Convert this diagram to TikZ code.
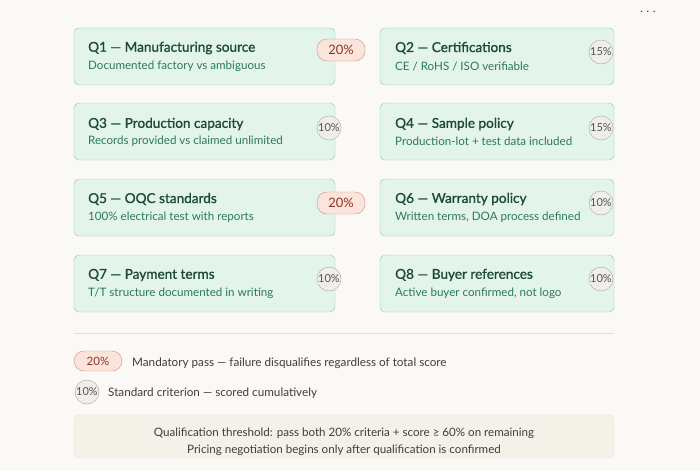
\documentclass[tikz,border=0pt]{standalone}
\usepackage{fontspec}
\setmainfont{Lato}
\newfontfamily\titlefont{Lato}[FakeBold=1.2]
\usetikzlibrary{positioning}
\definecolor{pagebg}{HTML}{FAF9F6}
\definecolor{cardfill}{HTML}{E2F4EC}
\definecolor{cardline}{HTML}{8FC9AE}
\definecolor{titlecol}{HTML}{1E4A37}
\definecolor{subcol}{HTML}{2C7A55}
\definecolor{pillfill}{HTML}{FBE4DC}
\definecolor{pillline}{HTML}{D68C78}
\definecolor{pilltext}{HTML}{8A3526}
\definecolor{dotfill}{HTML}{EFEEEA}
\definecolor{dotline}{HTML}{A8A6A0}
\definecolor{dottext}{HTML}{555450}
\definecolor{notefill}{HTML}{F3F2E8}
\definecolor{noteline}{HTML}{E4E2D6}
\definecolor{graytext}{HTML}{3E3D3A}
\tikzset{
  card/.style={draw=cardline, fill=cardfill, rounded corners=5pt, minimum width=261pt, minimum height=57pt, inner sep=0pt},
  cardr/.style={card, minimum width=234pt},
  qtitle/.style={anchor=west, inner sep=0pt, text=titlecol, font=\titlefont\fontsize{13.6}{15}\selectfont},
  qsub/.style={anchor=west, inner sep=0pt, text=subcol, font=\fontsize{11.6}{13}\selectfont},
  pill/.style={draw=pillline, fill=pillfill, rounded corners=10pt, minimum width=48pt, minimum height=22pt, inner sep=0pt, text=pilltext, font=\fontsize{13}{15}\selectfont},
  dot/.style={circle, draw=dotline, fill=dotfill, minimum size=24pt, inner sep=0pt, text=dottext, font=\fontsize{11}{12}\selectfont},
  legtext/.style={anchor=west, inner sep=0pt, text=graytext, font=\fontsize{11.7}{13}\selectfont},
}
\begin{document}
\begin{tikzpicture}[x=1pt, y=-1pt]
        \fill[pagebg] (0,0) rectangle (700,471);
        \useasboundingbox (0,0) rectangle (700,471);
        \node[text=graytext, inner sep=0pt, font=\fontsize{14}{14}\selectfont\bfseries] (more) at (648,12) {$\cdots$};

        %% left column
        \node[card] (q1) at (204.5,56.5) {};
        \node[qtitle] (q1t) at (88,48) {Q1 — Manufacturing source};
        \node[qsub] (q1s) at (88,66) {Documented factory vs ambiguous};
        \node[pill] (q1b) at (341,50) {20\%};

        \node[card] (q3) at (204.5,131.5) {};
        \node[qtitle] (q3t) at (88,124) {Q3 — Production capacity};
        \node[qsub] (q3s) at (88,141) {Records provided vs claimed unlimited};
        \node[dot] (q3b) at (329,128) {10\%};

        \node[card] (q5) at (204.5,207.5) {};
        \node[qtitle] (q5t) at (88,199) {Q5 — OQC standards};
        \node[qsub] (q5s) at (88,217) {100\% electrical test with reports};
        \node[pill] (q5b) at (341,203) {20\%};

        \node[card] (q7) at (204.5,283.5) {};
        \node[qtitle] (q7t) at (88,275) {Q7 — Payment terms};
        \node[qsub] (q7s) at (88,293) {T/T structure documented in writing};
        \node[dot] (q7b) at (329,279) {10\%};

        %% right column
        \node[cardr] (q2) at (497,56.5) {};
        \node[qtitle] (q2t) at (395,48) {Q2 — Certifications};
        \node[qsub] (q2s) at (395,66) {CE / RoHS / ISO verifiable};
        \node[dot] (q2b) at (601,52) {15\%};

        \node[cardr] (q4) at (497,131.5) {};
        \node[qtitle] (q4t) at (395,124) {Q4 — Sample policy};
        \node[qsub] (q4s) at (395,141) {Production-lot + test data included};
        \node[dot] (q4b) at (601,128) {15\%};

        \node[cardr] (q6) at (497,207.5) {};
        \node[qtitle] (q6t) at (395,199) {Q6 — Warranty policy};
        \node[qsub] (q6s) at (395,217) {Written terms, DOA process defined};
        \node[dot] (q6b) at (601,203) {10\%};

        \node[cardr] (q8) at (497,283.5) {};
        \node[qtitle] (q8t) at (395,275) {Q8 — Buyer references};
        \node[qsub] (q8s) at (395,293) {Active buyer confirmed, not logo};
        \node[dot] (q8b) at (601,279) {10\%};

        %% legend
        \coordinate (sepl) at (74,333);
        \coordinate (sepr) at (614,333);
        \draw[noteline, line width=1pt] (sepl) -- (sepr);
        \node[pill, minimum height=20pt, font=\fontsize{11.5}{13}\selectfont] (leg1) at (98,361) {20\%};
        \node[legtext] (leg1t) at (132,363) {Mandatory pass — failure disqualifies regardless of total score};
        \node[dot] (leg2) at (87,392) {10\%};
        \node[legtext] (leg2t) at (108,393) {Standard criterion — scored cumulatively};

        %% threshold note
        \node[draw=noteline, fill=notefill, rounded corners=5pt, minimum width=540pt, minimum height=43pt, inner sep=0pt] (note) at (344,436.5) {};
        \node[text=graytext, font=\fontsize{11.6}{13}\selectfont, inner sep=0pt] (note1) at (344,433) {Qualification threshold: pass both 20\% criteria + score ≥ 60\% on remaining};
        \node[text=graytext, font=\fontsize{11.6}{13}\selectfont, inner sep=0pt] (note2) at (344,450) {Pricing negotiation begins only after qualification is confirmed};
\end{tikzpicture}
\end{document}
